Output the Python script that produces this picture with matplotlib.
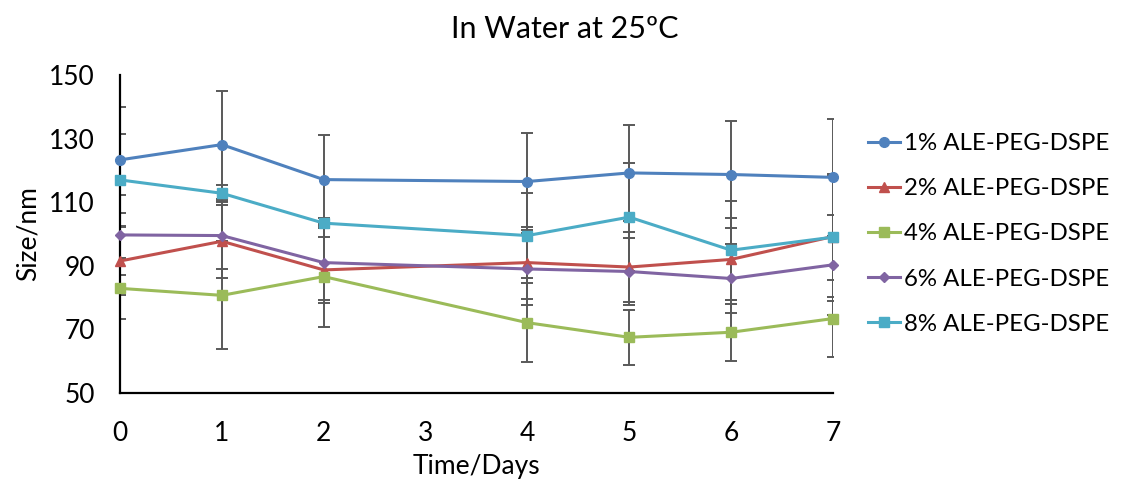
import matplotlib
matplotlib.use("Agg")
import matplotlib.pyplot as plt

plt.rcParams['font.family'] = ['Lato', 'DejaVu Sans']

days = [0, 1, 2, 4, 5, 6, 7]
x_ticks = [0, 1, 2, 3, 4, 5, 6, 7]
y_ticks = [50, 70, 90, 110, 130, 150]

labels = ["1% ALE-PEG-DSPE", "2% ALE-PEG-DSPE", "4% ALE-PEG-DSPE",
          "6% ALE-PEG-DSPE", "8% ALE-PEG-DSPE"]

size_1 = [123.3, 128.1, 117.1, 116.5, 119.2, 118.7, 117.8]
size_2 = [91.5, 97.7, 88.7, 91.0, 89.6, 92.0, 99.2]
size_4 = [82.9, 80.7, 86.6, 72.1, 67.5, 69.1, 73.4]
size_6 = [99.7, 99.5, 91.0, 89.0, 88.2, 86.0, 90.3]
size_8 = [117.0, 112.8, 103.4, 99.5, 105.3, 94.9, 99.0]

err_1 = [16.7, 17.0, 13.9, 15.4, 15.0, 16.8, 18.3]
err_2 = [10.7, 11.5, 10.3, 11.3, 11.0, 12.9, 19.0]
err_4 = [9.5, 17.0, 15.9, 12.4, 8.7, 9.0, 12.2]
err_6 = [12.6, 10.5, 11.9, 11.4, 10.5, 11.0, 15.7]
err_8 = [14.4, 2.5, 1.5, 13.3, 17.0, 15.6, 20.0]

series = [size_1, size_2, size_4, size_6, size_8]
errors = [err_1, err_2, err_4, err_6, err_8]
colors = ["#4F81BD", "#C0504D", "#9BBB59", "#8064A2", "#4BACC6"]
markers = ["o", "^", "s", "D", "s"]
msizes = [7, 7, 6.5, 5.5, 7.5]

fig = plt.figure(figsize=(11.29, 4.90), dpi=100)
ax = fig.add_axes([0.1063, 0.198, 0.6315, 0.649])

for vals, err in zip(series, errors):
    ax.errorbar(days, vals, yerr=err, fmt="none", ecolor="#595959",
                elinewidth=1.4, capsize=4.5, capthick=1.4, zorder=1)

for vals, lab, c, m, ms in zip(series, labels, colors, markers, msizes):
    ax.plot(days, vals, color=c, marker=m, markersize=ms, linewidth=2.2,
            label=lab, clip_on=False, zorder=3)

ax.set_xlim(0, 7)
ax.set_ylim(50, 150)
ax.set_xticks(x_ticks)
ax.set_yticks(y_ticks)
ax.tick_params(axis="both", length=0, labelsize=19, colors="black")
ax.tick_params(axis="x", pad=20)
ax.tick_params(axis="y", pad=18)

for side in ("top", "right"):
    ax.spines[side].set_visible(False)
for side in ("left", "bottom"):
    ax.spines[side].set_linewidth(1.6)
    ax.spines[side].set_color("black")

ax.set_xlabel("Time/Days", fontsize=19, labelpad=6)
ax.set_ylabel("Size/nm", fontsize=19, labelpad=6)

fig.text(0.5, 0.94, "In Water at 25ºC", ha="center", va="center", fontsize=22)

ax.legend(loc="center left", bbox_to_anchor=(1.035, 0.5), frameon=False,
          fontsize=17.3, handlelength=1.35, handletextpad=0.15, labelspacing=1.0,
          borderaxespad=0)

fig.savefig("out.png", dpi=100, facecolor="white")
